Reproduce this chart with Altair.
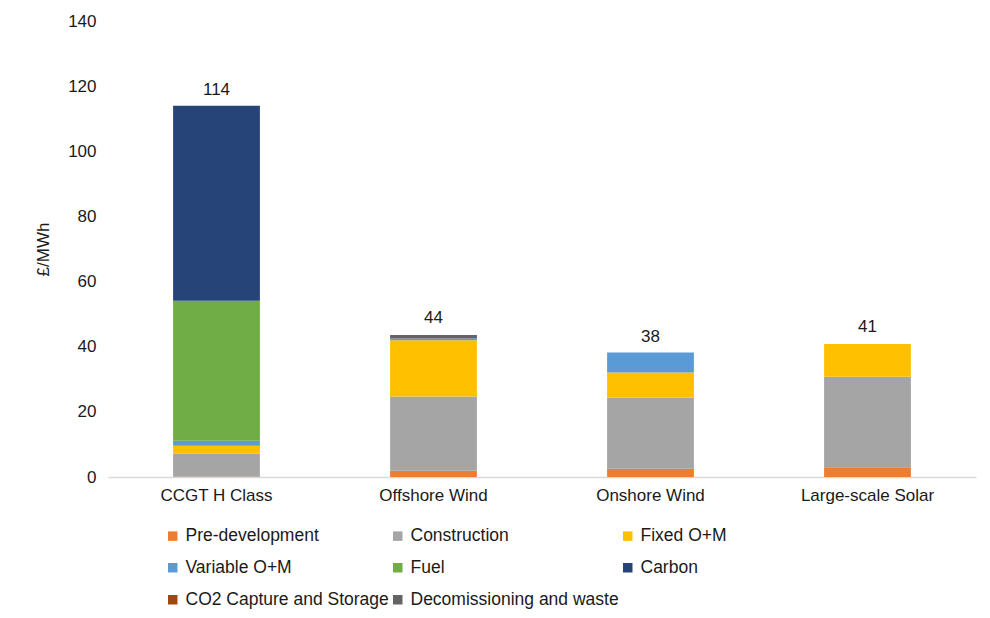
import altair as alt
import pandas as pd

technologies = ["CCGT H Class", "Offshore Wind", "Onshore Wind", "Large-scale Solar"]
series = ["Pre-development", "Construction", "Fixed O+M", "Variable O+M",
          "Fuel", "Carbon", "CO2 Capture and Storage", "Decomissioning and waste"]
colors = ["#ED7D31", "#A5A5A5", "#FFC000", "#5B9BD5",
          "#70AD47", "#264478", "#9E480E", "#636363"]

pre_development = [0.1, 1.9, 2.5, 3.0]
construction = [7.0, 22.8, 21.9, 27.8]
fixed_om = [2.5, 17.3, 7.7, 10.0]
variable_om = [1.5, 0.5, 6.1, 0.0]
fuel = [43.0, 0.0, 0.0, 0.0]
carbon = [59.9, 0.0, 0.0, 0.0]
ccs = [0.0, 0.0, 0.0, 0.0]
decommissioning = [0.0, 1.1, 0.0, 0.0]
totals = [114, 44, 38, 41]

values = [pre_development, construction, fixed_om, variable_om, fuel, carbon, ccs, decommissioning]

rows = []
for si, (name, vals) in enumerate(zip(series, values)):
    for t, v in zip(technologies, vals):
        rows.append({"tech": t, "series": name, "value": v, "ord": si})
df = pd.DataFrame(rows)
tot_df = pd.DataFrame({"tech": technologies, "total": totals})

FONT = "Liberation Sans"
TXT = "#1a1a1a"

x_enc = alt.X("tech:N", sort=technologies, title=None,
              scale=alt.Scale(paddingInner=0.6, paddingOuter=0.3),
              axis=alt.Axis(labelAngle=0, labelFontSize=17, labelFont=FONT, labelColor=TXT,
                            ticks=False, domainColor="#d9d9d9", domainWidth=1.5,
                            labelPadding=10))

bars = alt.Chart(df).mark_bar().encode(
    x=x_enc,
    y=alt.Y("value:Q", stack="zero", title="£/MWh",
            scale=alt.Scale(domain=[0, 140], nice=False),
            axis=alt.Axis(values=[0, 20, 40, 60, 80, 100, 120, 140], grid=False, domain=False,
                          ticks=False, labelFontSize=17, labelFont=FONT, labelColor=TXT,
                          labelPadding=12, titleFontSize=17, titleFont=FONT,
                          titleFontWeight="normal", titleColor=TXT, titlePadding=15)),
    color=alt.Color("series:N", scale=alt.Scale(domain=series, range=colors),
                    legend=alt.Legend(title=None, orient="none", legendX=56, legendY=506,
                                      columns=3, direction="horizontal",
                                      symbolType="square", symbolSize=90,
                                      symbolStrokeWidth=0, labelFontSize=17.5, labelFont=FONT,
                                      labelColor=TXT, labelLimit=400, gridAlign="each",
                                      columnPadding=0, rowPadding=13, labelOffset=4)),
    order=alt.Order("ord:Q", sort="ascending"),
)

labels = alt.Chart(tot_df).mark_text(baseline="bottom", dy=-7, fontSize=17, font=FONT, color=TXT).encode(
    x=alt.X("tech:N", sort=technologies),
    y=alt.Y("total:Q"),
    text=alt.Text("total:Q"),
)

chart = alt.layer(bars, labels).properties(
    width=868, height=456,
    padding={"left": 100, "top": 13, "right": 4, "bottom": 133},
    autosize=alt.AutoSizeParams(type="none"),
).configure_view(stroke=None)

chart.save("out.html", embed_options={"renderer": "svg", "actions": False})
